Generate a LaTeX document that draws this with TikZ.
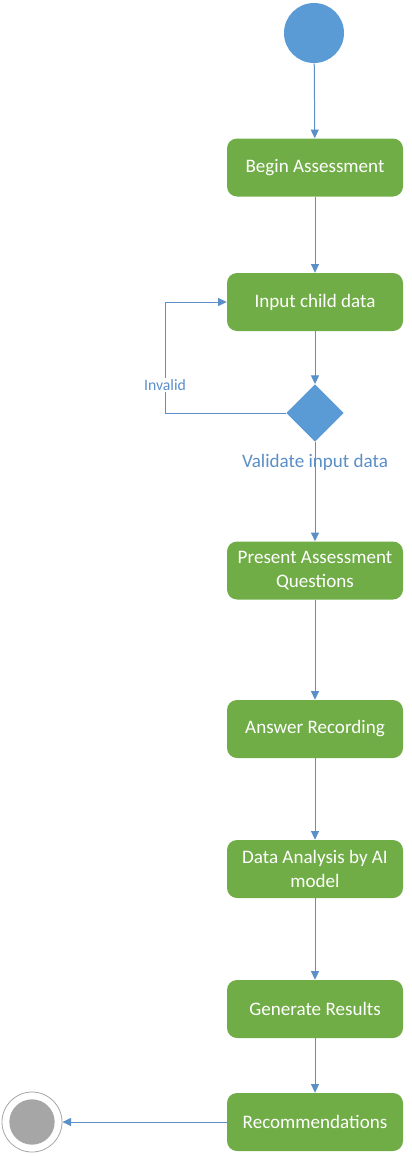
\documentclass[tikz,border=0pt]{standalone}
\usepackage{fontspec}
\setmainfont{Carlito}
\usetikzlibrary{arrows.meta,shapes.geometric}
\definecolor{actgreen}{HTML}{70AD47}
\definecolor{flowblue}{HTML}{5B9BD5}
\definecolor{linkblue}{HTML}{5A8FC8}
\definecolor{endgray}{HTML}{A6A6A6}
\tikzset{
  act/.style={rectangle, rounded corners=7.5pt, fill=actgreen, draw=none,
    minimum width=132pt, minimum height=43.5pt, align=center,
    text=white, font=\fontsize{14.3}{17.5}\selectfont, inner sep=0pt},
  link/.style={draw=linkblue, line width=0.75pt, -{Triangle[length=6.5pt,width=6pt]}},
  lbl/.style={text=linkblue, font=\fontsize{14.3}{17}\selectfont},
}
\begin{document}
\begin{tikzpicture}[x=0.75pt,y=-0.75pt]
\useasboundingbox (0,0) rectangle (411,1156);
\node[circle, fill=flowblue, minimum size=45pt, inner sep=0pt] (start) at (314,33) {};
\node[act] (begin) at (315,167.5) {Begin Assessment};
\node[act] (input) at (315,302) {Input child data};
\node[diamond, fill=flowblue, minimum width=43pt, minimum height=43pt, inner sep=0pt] (valid) at (315,413) {};
\node[lbl] (vlabel) at (315,462) {Validate input data};
\node[act] (present) at (315,570.5) {Present Assessment\\Questions};
\node[act] (answer) at (315,729) {Answer Recording};
\node[act] (analysis) at (315,869) {Data Analysis by AI\\model};
\node[act] (results) at (315,1009) {Generate Results};
\node[act] (recom) at (315,1122) {Recommendations};
\node[circle, draw=endgray, line width=0.6pt, minimum size=45pt, inner sep=0pt] (endo) at (32,1122) {};
\node[circle, fill=endgray, minimum size=34pt, inner sep=0pt] (endi) at (32,1122) {};
\coordinate (lb) at (165,413);
\coordinate (lt) at (165,302);
\draw[link] (start) -- (begin);
\draw[link] (begin) -- (input);
\draw[link] (input) -- (valid);
\draw[link] (valid.west) -- (lb) -- (lt) -- (input.west);
\node[fill=white, text=linkblue, font=\fontsize{11.8}{14}\selectfont, inner sep=1pt] (inv) at (165,385) {Invalid};
\draw[link] (valid) -- (present);
\draw[link] (present) -- (answer);
\draw[link] (answer) -- (analysis);
\draw[link] (analysis) -- (results);
\draw[link] (results) -- (recom);
\draw[link] (recom) -- (endo);
\end{tikzpicture}
\end{document}
